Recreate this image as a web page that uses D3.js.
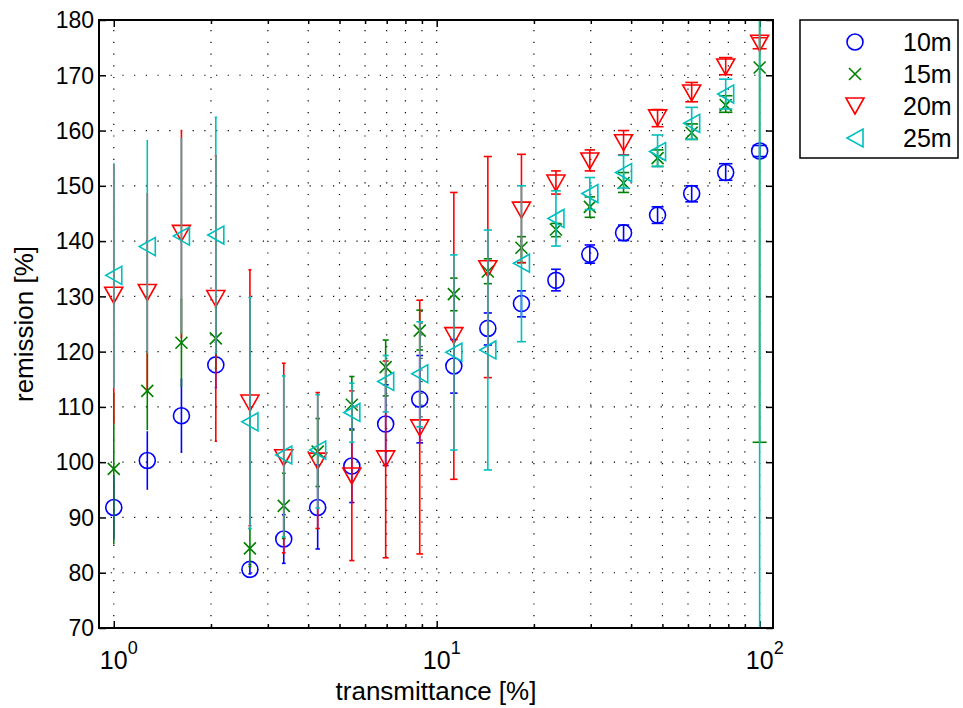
<!DOCTYPE html>
<html>
<head>
<meta charset="utf-8">
<script src="https://cdn.jsdelivr.net/npm/d3@7"></script>
<style>
  body { margin: 0; background: #fff; }
  text { font-family: "Liberation Sans", Arial, sans-serif; fill: #000; }
</style>
</head>
<body>
<svg id="chart" width="963" height="708"></svg>
<script>
// transmittance [%] on the x axis (log)
const transmittance = [1.00, 1.27, 1.62, 2.07, 2.64, 3.36, 4.28, 5.46, 6.95, 8.86, 11.3, 14.4, 18.3, 23.4, 29.8, 37.9, 48.3, 61.6, 78.5, 100];

// remission [%] with lower / upper error bar ends
const rem10 = [91.8, 100.3, 108.4, 117.6, 80.6, 86.1, 91.8, 99.3, 106.9, 111.4, 117.4, 124.2, 128.7, 132.9, 137.6, 141.5, 144.7, 148.6, 152.4, 156.3];
const lo10  = [86.0, 95.0, 101.8, 113.5, 79.8, 81.7, 84.3, 92.7, 99.4, 103.5, 112.5, 121.2, 126.3, 131.0, 136.0, 140.1, 143.2, 147.1, 151.0, 155.3];
const hi10  = [97.6, 105.6, 115.0, 121.7, 81.5, 90.5, 99.5, 106.0, 114.0, 119.3, 122.2, 127.0, 131.0, 134.9, 139.3, 142.9, 146.2, 150.0, 154.0, 157.3];

const rem15 = [98.8, 112.9, 121.6, 122.4, 84.4, 92.1, 101.9, 110.4, 117.2, 123.8, 130.4, 134.5, 138.8, 142.1, 146.2, 150.5, 155.0, 159.6, 164.6, 171.4];
const lo15  = [85.1, 105.8, 113.7, 117.0, 81.1, 86.2, 95.6, 105.8, 112.0, 120.3, 127.4, 132.3, 136.1, 140.8, 144.3, 148.8, 153.5, 158.4, 163.3, 103.6];
const hi15  = [112.5, 120.0, 129.5, 128.0, 88.0, 98.0, 107.9, 115.5, 122.1, 127.5, 133.3, 136.8, 140.8, 143.2, 148.0, 152.4, 156.5, 161.2, 166.3, 239.0];

const rem20 = [130.2, 130.7, 141.4, 129.6, 110.7, 100.8, 100.2, 97.5, 100.6, 106.2, 122.9, 135.0, 145.6, 150.5, 154.5, 157.8, 162.3, 166.8, 171.5, 175.8];
const lo20  = [106.9, 113.1, 122.6, 103.8, 88.5, 83.6, 88.0, 82.2, 82.7, 83.4, 96.9, 115.3, 136.1, 148.5, 152.7, 155.6, 160.7, 165.2, 170.1, 174.8];
const hi20  = [153.9, 148.7, 160.0, 155.4, 134.8, 117.9, 112.6, 112.9, 118.3, 129.3, 148.8, 155.3, 155.7, 152.7, 156.5, 160.0, 163.8, 168.7, 173.2, 176.8];

const rem25 = [133.8, 139.0, 140.9, 141.1, 107.3, 101.3, 102.2, 109.0, 114.6, 116.0, 119.9, 120.3, 136.0, 144.1, 148.6, 152.4, 156.2, 161.3, 166.6, 185.0];
const lo25  = [113.4, 119.7, 123.4, 119.8, 88.0, 86.5, 91.7, 103.6, 109.1, 106.4, 102.2, 98.6, 121.8, 139.1, 145.7, 149.6, 153.5, 158.4, 163.9, 40.0];
const hi25  = [154.1, 158.3, 158.5, 162.4, 129.8, 115.6, 112.2, 114.3, 119.3, 125.4, 137.5, 142.0, 150.0, 149.1, 151.5, 155.5, 159.2, 164.2, 169.3, 330.0];

const seriesNames = ["10m", "15m", "20m", "25m"];
const yTicks = [70, 80, 90, 100, 110, 120, 130, 140, 150, 160, 170, 180];
const xMajor = [1, 10, 100];
const xMinor = [2, 3, 4, 5, 6, 7, 8, 9, 20, 30, 40, 50, 60, 70, 80, 90];

const pLeft = 99, pRight = 773, pTop = 20, pBottom = 628;

const svg = d3.select("#chart");
const x = d3.scaleLog().domain([0.9, 110]).range([pLeft, pRight]);
const y = d3.scaleLinear().domain([70, 180]).range([pBottom, pTop]);

svg.append("defs").append("clipPath").attr("id", "plotclip")
  .append("rect").attr("x", pLeft).attr("y", pTop).attr("width", pRight - pLeft).attr("height", pBottom - pTop);

// dotted grid
const grid = svg.append("g").attr("stroke", "#000").attr("stroke-width", 1.2)
  .attr("stroke-dasharray", "1.2,10.5");
grid.selectAll(".gy").data(yTicks.slice(1, -1)).join("line")
  .attr("x1", pLeft).attr("x2", pRight).attr("y1", d => y(d)).attr("y2", d => y(d));
grid.selectAll(".gx").data(xMajor.concat(xMinor)).join("line")
  .attr("x1", d => x(d)).attr("x2", d => x(d)).attr("y1", pBottom).attr("y2", pTop);

// axes (ticks inside, box all round)
function tickInside(g) { g.select(".domain").remove(); g.selectAll("text").remove(); }
svg.append("g").attr("transform", `translate(0,${pBottom})`)
  .call(d3.axisTop(x).tickValues(xMajor).tickSize(7)).call(tickInside);
svg.append("g").attr("transform", `translate(0,${pBottom})`)
  .call(d3.axisTop(x).tickValues(xMinor).tickSize(4)).call(tickInside);
svg.append("g").attr("transform", `translate(0,${pTop})`)
  .call(d3.axisBottom(x).tickValues(xMajor).tickSize(7)).call(tickInside);
svg.append("g").attr("transform", `translate(0,${pTop})`)
  .call(d3.axisBottom(x).tickValues(xMinor).tickSize(4)).call(tickInside);
svg.append("g").attr("transform", `translate(${pLeft},0)`)
  .call(d3.axisRight(y).tickValues(yTicks).tickSize(7)).call(tickInside);
svg.append("g").attr("transform", `translate(${pRight},0)`)
  .call(d3.axisLeft(y).tickValues(yTicks).tickSize(7)).call(tickInside);
svg.selectAll(".tick line").attr("stroke", "#000").attr("stroke-width", 1.5);

// tick labels
svg.append("g").selectAll("text").data(yTicks).join("text")
  .attr("x", pLeft - 5).attr("y", d => y(d)).attr("dy", "0.36em")
  .attr("text-anchor", "end").attr("font-size", 23).text(d => d);
const xl = svg.append("g").selectAll("g").data(xMajor).join("g")
  .attr("transform", d => `translate(${x(d)},669)`);
xl.append("text").attr("text-anchor", "middle").attr("font-size", 25).text("10");
xl.append("text").attr("x", 14).attr("y", -15).attr("font-size", 18)
  .text(d => Math.round(Math.log10(d)));

svg.append("text").attr("x", (pLeft + pRight) / 2).attr("y", 700).attr("text-anchor", "middle")
  .attr("font-size", 26).text("transmittance [%]");
svg.append("text").attr("transform", `translate(33,${(pTop + pBottom) / 2}) rotate(-90)`)
  .attr("text-anchor", "middle").attr("font-size", 26).text("remission [%]");

// markers
const markers = {
  circle: g => g.append("circle").attr("r", 8),
  cross: g => g.append("path").attr("d", "M-6,-6L6,6M-6,6L6,-6"),
  down: g => g.append("path").attr("d", "M-9,-8L9,-8L0,8Z"),
  left: g => g.append("path").attr("d", "M8,-9L8,9L-8,0Z")
};
const series = [
  { name: seriesNames[0], v: rem10, lo: lo10, hi: hi10, color: "#0000ff", marker: "circle" },
  { name: seriesNames[1], v: rem15, lo: lo15, hi: hi15, color: "#008000", marker: "cross" },
  { name: seriesNames[2], v: rem20, lo: lo20, hi: hi20, color: "#ff0000", marker: "down" },
  { name: seriesNames[3], v: rem25, lo: lo25, hi: hi25, color: "#00bfbf", marker: "left" }
];

const plot = svg.append("g").attr("clip-path", "url(#plotclip)");
// cap half-width grows along the log axis, as in the source figure
const capHalf = t => Math.min(7, (x(t) - x(transmittance[0])) * 0.011);
series.forEach(s => {
  const g = plot.append("g").attr("stroke", s.color).attr("fill", "none").attr("stroke-width", 1.6);
  transmittance.forEach((t, i) => {
    const cx = x(t), cap = capHalf(t);
    g.append("line").attr("x1", cx).attr("x2", cx).attr("y1", y(s.lo[i])).attr("y2", y(s.hi[i]));
    if (cap > 0.5) {
      g.append("line").attr("x1", cx - cap).attr("x2", cx + cap).attr("y1", y(s.lo[i])).attr("y2", y(s.lo[i]));
      g.append("line").attr("x1", cx - cap).attr("x2", cx + cap).attr("y1", y(s.hi[i])).attr("y2", y(s.hi[i]));
    }
  });
  transmittance.forEach((t, i) => {
    const m = g.append("g").attr("transform", `translate(${x(t)},${y(s.v[i])})`);
    markers[s.marker](m);
  });
});

// box
svg.append("rect").attr("x", pLeft).attr("y", pTop).attr("width", pRight - pLeft).attr("height", pBottom - pTop)
  .attr("fill", "none").attr("stroke", "#000").attr("stroke-width", 2);

// legend
const leg = svg.append("g");
leg.append("rect").attr("x", 800).attr("y", 20).attr("width", 158).attr("height", 138)
  .attr("fill", "#fff").attr("stroke", "#000").attr("stroke-width", 1.5);
series.forEach((s, i) => {
  const ly = 42 + i * 32;
  const m = leg.append("g").attr("transform", `translate(855,${ly})`)
    .attr("stroke", s.color).attr("fill", "none").attr("stroke-width", 1.6);
  markers[s.marker](m);
  leg.append("text").attr("x", 903).attr("y", ly).attr("dy", "0.36em").attr("font-size", 25).text(s.name);
});
</script>
</body>
</html>
